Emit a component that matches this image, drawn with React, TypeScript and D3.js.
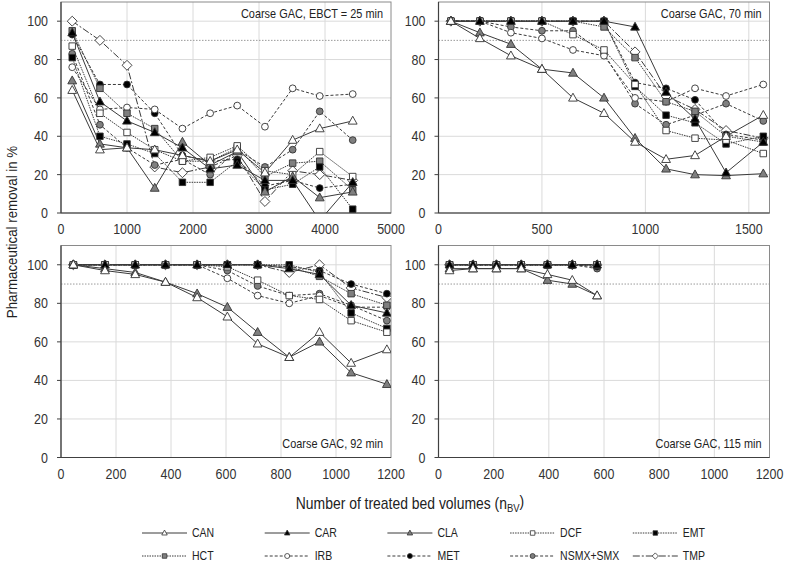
import React from "react";
import * as d3 from "d3";

// ---------- DATA ----------
const seriesNames = ["CAN", "CAR", "CLA", "DCF", "EMT", "HCT", "IRB", "MET", "NSMX+SMX", "TMP"];

// Panel 1: Coarse GAC, EBCT = 25 min
const bv25 = [170, 590, 1000, 1420, 1840, 2260, 2670, 3090, 3510, 3920, 4420];
const can25 = [64, 33, 34, 33, 30, 27, 33, 21, 38, 44, 48];
const car25 = [94, 58, 48, 42, 34, 23, 25, 17, 17, -4, 16];
const cla25 = [69, 36, 34, 13, 37, 25, 32, 11, 19, 8, 11];
const dcf25 = [87, 52, 42, 33, 27, 29, 35, 22, 20, 32, 19];
const emt25 = [81, 40, 36, 31, 16, 16, 27, 12, 15, 24, 2];
const hct25 = [95, 65, 52, 44, 27, 27, 34, 19, 26, 27, 12];
const irb25 = [76, 54, 55, 54, 44, 52, 56, 45, 65, 61, 62];
const met25 = [93, 67, 67, 52, 30, 27, 28, 14, 17, 13, 15];
const nsmx25 = [83, 46, 34, 25, 28, 20, 33, 24, 33, 53, 38];
const tmp25 = [100, 90, 77, 24, 21, 24, 30, 6, 22, 20, 17];

// Panel 2: Coarse GAC, 70 min
const bv70 = [60, 200, 350, 500, 650, 800, 950, 1100, 1240, 1390, 1570];
const can70 = [100, 91, 82, 75, 60, 52, 37, 28, 30, 40, 51];
const car70 = [100, 100, 100, 100, 100, 100, 97, 63, 49, 21, 37];
const cla70 = [100, 94, 88, 75, 73, 60, 39, 23, 20, 19.5, 20.5];
const dcf70 = [100, 100, 100, 100, 93, 85, 67, 43, 39, 38, 31];
const emt70 = [100, 100, 100, 100, 100, 100, 66, 51, 47, 36, 40];
const hct70 = [100, 100, 100, 100, 100, 97, 81, 58, 53, 40, 37];
const irb70 = [100, 100, 94, 91, 85, 82, 60, 58, 65, 61, 67];
const met70 = [100, 100, 100, 100, 100, 100, 68, 65, 59, 41, 38];
const nsmx70 = [100, 100, 97, 95, 95, 83, 57, 46, 51, 57, 48];
const tmp70 = [100, 100, 100, 100, 100, 100, 84, 61, 54, 43, 39];

// Panel 3: Coarse GAC, 92 min
const bv92 = [45, 160, 270, 380, 495, 605, 715, 830, 940, 1055, 1185];
const can92 = [100, 97, 95, 91, 83, 73, 59, 52, 65, 49, 56];
const car92 = [100, 100, 100, 100, 100, 100, 100, 98, 95, 79, 75];
const cla92 = [100, 98, 96, 91, 85, 78, 65, 52, 60, 44, 38];
const dcf92 = [100, 100, 100, 100, 100, 99, 92, 84, 82, 71, 65];
const emt92 = [100, 100, 100, 100, 100, 100, 100, 100, 96, 75, 67];
const hct92 = [100, 100, 100, 100, 100, 100, 100, 99, 94, 85, 79];
const irb92 = [100, 100, 100, 100, 100, 93, 84, 80, 84, 78, 78];
const met92 = [100, 100, 100, 100, 100, 100, 100, 99, 97, 90, 85];
const nsmx92 = [100, 100, 100, 100, 100, 97, 89, 84, 85, 79, 71];
const tmp92 = [100, 100, 100, 100, 100, 100, 100, 96, 100, 88, 83];

// Panel 4: Coarse GAC, 115 min
const bv115 = [40, 125, 210, 300, 395, 485, 575];
const can115 = [97, 98, 98, 98, 95, 92, 84];
const car115 = [100, 100, 100, 100, 100, 100, 100];
const cla115 = [98, 98, 98, 98, 92, 90, 84];
const dcf115 = [100, 100, 100, 100, 100, 100, 100];
const emt115 = [100, 100, 100, 100, 100, 100, 100];
const hct115 = [100, 100, 100, 100, 100, 100, 100];
const irb115 = [100, 100, 100, 100, 100, 100, 100];
const met115 = [100, 100, 100, 100, 100, 100, 99];
const nsmx115 = [100, 100, 100, 100, 100, 100, 98];
const tmp115 = [100, 100, 100, 100, 100, 100, 100];

const panelLabels = ["Coarse GAC, EBCT = 25 min", "Coarse GAC, 70 min", "Coarse GAC, 92 min", "Coarse GAC, 115 min"];
const yTicks = [0, 20, 40, 60, 80, 100];
const xTicks25 = [0, 1000, 2000, 3000, 4000, 5000];
const xTicks70 = [0, 500, 1000, 1500];
const xTicks92 = [0, 200, 400, 600, 800, 1000, 1200];
const xTicks115 = [0, 200, 400, 600, 800, 1000, 1200];
const guideline = 90;
const xTitle = "Number of treated bed volumes (n";
const xTitleSub = "BV";
const yTitle = "Pharmaceutical removal in %";

// ---------- STYLES ----------
type Marker = "tri" | "sq" | "circ" | "dia";
const styles: Record<string, { marker: Marker; fill: string; dash: string }> = {
  CAN: { marker: "tri", fill: "#ffffff", dash: "none" },
  CAR: { marker: "tri", fill: "#000000", dash: "none" },
  CLA: { marker: "tri", fill: "#7f7f7f", dash: "none" },
  DCF: { marker: "sq", fill: "#ffffff", dash: "1.5,1" },
  EMT: { marker: "sq", fill: "#000000", dash: "1.5,1" },
  HCT: { marker: "sq", fill: "#7f7f7f", dash: "1.5,1" },
  IRB: { marker: "circ", fill: "#ffffff", dash: "3,2" },
  MET: { marker: "circ", fill: "#000000", dash: "3,2" },
  "NSMX+SMX": { marker: "circ", fill: "#7f7f7f", dash: "3,2" },
  TMP: { marker: "dia", fill: "#ffffff", dash: "7,2,2,2" },
};

const FONT = "'Liberation Sans', Arial, Helvetica, sans-serif";
const LINE = "#3a3a3a";

// Condensed text (mimics Arial Narrow)
function T({ x, y, size, anchor = "start", sx = 0.84, fill = "#222", children }:
  { x: number; y: number; size: number; anchor?: "start" | "middle" | "end"; sx?: number; fill?: string; children: React.ReactNode }) {
  return (
    <text transform={`translate(${x},${y}) scale(${sx},1)`} textAnchor={anchor} dy="0.35em"
      fontSize={size} fontFamily={FONT} fill={fill}>{children}</text>
  );
}

function markerPath(m: Marker, s: number): string {
  if (m === "tri") {
    const h = s * 0.95;
    return `M0,${-h * 0.62}L${s * 0.55},${h * 0.42}L${-s * 0.55},${h * 0.42}Z`;
  }
  if (m === "sq") {
    const a = s * 0.45;
    return `M${-a},${-a}H${a}V${a}H${-a}Z`;
  }
  if (m === "dia") {
    const a = s * 0.62;
    return `M0,${-a}L${a},0L0,${a}L${-a},0Z`;
  }
  const r = s * 0.5;
  return `M${r},0A${r},${r} 0 1,1 ${-r},0A${r},${r} 0 1,1 ${r},0Z`;
}

interface PanelDef {
  left: number; top: number; width: number; height: number;
  xMax: number; xTicks: number[]; bv: number[]; values: number[][];
  label: string; labelTop: boolean;
}

const panels: PanelDef[] = [
  { left: 61, top: 2, width: 330, height: 211, xMax: 5000, xTicks: xTicks25, bv: bv25,
    values: [can25, car25, cla25, dcf25, emt25, hct25, irb25, met25, nsmx25, tmp25], label: panelLabels[0], labelTop: true },
  { left: 438.5, top: 2, width: 331, height: 211, xMax: 1600, xTicks: xTicks70, bv: bv70,
    values: [can70, car70, cla70, dcf70, emt70, hct70, irb70, met70, nsmx70, tmp70], label: panelLabels[1], labelTop: true },
  { left: 61, top: 245.5, width: 330, height: 212, xMax: 1200, xTicks: xTicks92, bv: bv92,
    values: [can92, car92, cla92, dcf92, emt92, hct92, irb92, met92, nsmx92, tmp92], label: panelLabels[2], labelTop: false },
  { left: 438.5, top: 245.5, width: 331, height: 212, xMax: 1200, xTicks: xTicks115, bv: bv115,
    values: [can115, car115, cla115, dcf115, emt115, hct115, irb115, met115, nsmx115, tmp115], label: panelLabels[3], labelTop: false },
];

function Panel({ p, idx }: { p: PanelDef; idx: number }) {
  const x = d3.scaleLinear().domain([0, p.xMax]).range([p.left, p.left + p.width]);
  const y = d3.scaleLinear().domain([0, 110]).range([p.top + p.height, p.top]);
  const bottom = p.top + p.height;
  const right = p.left + p.width;
  const clipId = `clip${idx}`;
  const drawOrder = [9, 8, 7, 6, 5, 4, 3, 2, 1, 0];
  return (
    <g>
      <defs>
        <clipPath id={clipId}>
          <rect x={p.left} y={p.top} width={p.width} height={p.height} />
        </clipPath>
      </defs>
      <rect x={p.left} y={p.top} width={p.width} height={p.height} fill="#fff" />
      {yTicks.filter((t) => t > 0).map((t) => (
        <line key={"gy" + t} x1={p.left} x2={right} y1={y(t)} y2={y(t)} stroke="#dadada" strokeWidth={1} />
      ))}
      {p.xTicks.filter((t) => t > 0 && t < p.xMax).map((t) => (
        <line key={"gx" + t} x1={x(t)} x2={x(t)} y1={p.top} y2={bottom} stroke="#dadada" strokeWidth={1} />
      ))}
      <line x1={p.left} x2={right} y1={y(guideline)} y2={y(guideline)} stroke="#9a9a9a" strokeWidth={1} strokeDasharray="1.5,1.5" />
      <rect x={p.left} y={p.top} width={p.width} height={p.height} fill="none" stroke="#8a8a8a" strokeWidth={1} />
      <line x1={p.left} x2={p.left} y1={p.top} y2={bottom} stroke="#404040" strokeWidth={1.2} />
      <line x1={p.left} x2={right} y1={bottom} y2={bottom} stroke="#404040" strokeWidth={1.2} />
      {yTicks.map((t) => (
        <g key={"ty" + t}>
          <line x1={p.left} x2={p.left - 4} y1={y(t)} y2={y(t)} stroke="#404040" strokeWidth={1} />
          <T x={p.left - 13} y={y(t)} size={14.5} anchor="end" sx={0.86} fill="#333">{t}</T>
        </g>
      ))}
      {p.xTicks.map((t) => (
        <T key={"tx" + t} x={x(t)} y={bottom + 16} size={14.5} anchor="middle" sx={0.86} fill="#333">{t}</T>
      ))}
      <g clipPath={`url(#${clipId})`}>
        {drawOrder.map((si) => {
          const name = seriesNames[si];
          const st = styles[name];
          const pts = p.bv.map((b, i) => [x(b), y(p.values[si][i])] as [number, number]);
          const line = d3.line()(pts) || "";
          return <path key={"l" + name} d={line} fill="none" stroke={LINE} strokeWidth={1} strokeDasharray={st.dash} />;
        })}
        {drawOrder.map((si) => {
          const name = seriesNames[si];
          const st = styles[name];
          return (
            <g key={"m" + name}>
              {p.bv.map((b, i) => (
                <path key={i} d={markerPath(st.marker, st.marker === "circ" ? 6.8 : st.marker === "sq" ? 7.2 : 8)}
                  transform={`translate(${x(b)},${y(p.values[si][i])})`}
                  fill={st.fill} stroke="#333" strokeWidth={0.9} />
              ))}
            </g>
          );
        })}
      </g>
      <T x={right - 8} y={p.labelTop ? p.top + 11 : bottom - 14} size={13} anchor="end" sx={0.84} fill="#222">{p.label}</T>
    </g>
  );
}

function Legend() {
  const colX = d3.scaleLinear().domain([0, 1]).range([142, 264.7]);
  const rowY = [533, 556];
  return (
    <g>
      {seriesNames.map((name, i) => {
        const col = i % 5;
        const row = Math.floor(i / 5);
        const x0 = colX(col);
        const yy = rowY[row];
        const st = styles[name];
        return (
          <g key={name}>
            <line x1={x0} x2={x0 + 45} y1={yy} y2={yy} stroke={LINE} strokeWidth={1} strokeDasharray={st.dash} />
            <path d={markerPath(st.marker, 5)} transform={`translate(${x0 + 22.5},${yy})`} fill={st.fill} stroke="#333" strokeWidth={0.8} />
            <T x={x0 + 50} y={yy} size={12.5} sx={0.84}>{name}</T>
          </g>
        );
      })}
    </g>
  );
}

export default function App() {
  return (
    <svg width={787} height={563} style={{ position: "absolute", left: 0, top: 0, background: "#fff" }}>
      <rect width={787} height={563} fill="#fff" />
      {panels.map((p, i) => (
        <Panel key={i} p={p} idx={i} />
      ))}
      <text transform="translate(410,503) scale(0.86,1)" textAnchor="middle" dy="0.35em" fontSize={16.2} fontFamily={FONT} fill="#222">
        {xTitle}
        <tspan fontSize={11} dy="0.3em">{xTitleSub}</tspan>
        <tspan dy="-0.3em">)</tspan>
      </text>
      <text transform="translate(12,232) rotate(-90) scale(0.86,1)" textAnchor="middle" dy="0.35em" fontSize={15.5} fontFamily={FONT} fill="#222">
        {yTitle}
      </text>
      <Legend />
    </svg>
  );
}
